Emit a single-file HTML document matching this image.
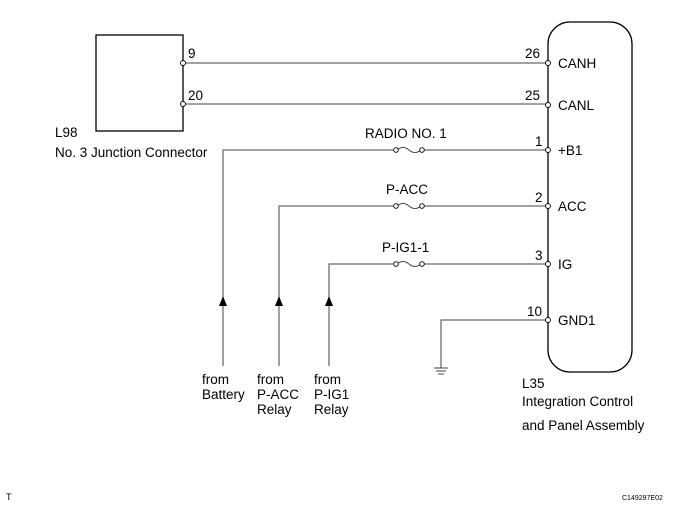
<!DOCTYPE html>
<html><head><meta charset="utf-8"><style>body{margin:0;background:#fff}svg{display:block}text{font-family:"Liberation Sans",sans-serif;font-size:13.5px;fill:#000}</style></head>
<body><svg width="690" height="520" viewBox="0 0 690 520">
<rect x="96" y="35" width="87" height="96" fill="none" stroke="#000" stroke-width="1.3"/>
<rect x="548" y="22" width="84" height="350" rx="22" fill="none" stroke="#000" stroke-width="1.3"/>
<g stroke="#444" stroke-width="1" fill="none">
<line x1="183" y1="63" x2="548" y2="63"/>
<line x1="183" y1="104" x2="548" y2="104"/>
<polyline points="223,366 223,150 393,150"/><line x1="422" y1="150" x2="548" y2="150"/>
<polyline points="279,366 279,206 393,206"/><line x1="422" y1="206" x2="548" y2="206"/>
<polyline points="329,366 329,264 393,264"/><line x1="422" y1="264" x2="548" y2="264"/>
<polyline points="441,368 441,320 548,320"/>
<line x1="434" y1="368" x2="448" y2="368"/><line x1="436" y1="371" x2="446" y2="371"/><line x1="438" y1="374" x2="444" y2="374"/>
<path d="M397,150 q6,-5 12,0 t12,0"/><path d="M397,206 q6,-5 12,0 t12,0"/><path d="M397,264 q6,-5 12,0 t12,0"/>
</g>
<g fill="#fff" stroke="#000" stroke-width="0.9">
<circle cx="183" cy="63" r="2.5"/><circle cx="183" cy="104" r="2.5"/>
<circle cx="548" cy="63" r="2.5"/><circle cx="548" cy="105" r="2.5"/><circle cx="548" cy="150" r="2.5"/><circle cx="548" cy="206" r="2.5"/><circle cx="548" cy="264" r="2.5"/><circle cx="548" cy="320" r="2.5"/>
<circle cx="396" cy="150" r="2.3"/><circle cx="422" cy="150" r="2.3"/><circle cx="396" cy="206" r="2.3"/><circle cx="422" cy="206" r="2.3"/><circle cx="396" cy="264" r="2.3"/><circle cx="422" cy="264" r="2.3"/>
</g>
<g fill="#000"><polygon points="223,296 219,306 227,306"/><polygon points="279,296 275,306 283,306"/><polygon points="329,296 325,306 333,306"/></g>
<text x="188" y="58">9</text><text x="188" y="100">20</text>
<text x="55" y="137">L98</text><text x="55" y="157">No. 3 Junction Connector</text>
<text x="525" y="58">26</text><text x="525" y="100">25</text><text x="535" y="146">1</text><text x="535" y="202">2</text><text x="535" y="260">3</text><text x="527" y="316">10</text>
<text x="558" y="68">CANH</text><text x="558" y="110">CANL</text><text x="558" y="155">+B1</text><text x="558" y="211">ACC</text><text x="558" y="269">IG</text><text x="558" y="325">GND1</text>
<text x="365" y="138">RADIO NO. 1</text><text x="386" y="194">P-ACC</text><text x="382" y="252">P-IG1-1</text>
<text x="202" y="384">from</text><text x="202" y="399">Battery</text>
<text x="257" y="384">from</text><text x="257" y="399">P-ACC</text><text x="257" y="414">Relay</text>
<text x="314" y="384">from</text><text x="314" y="399">P-IG1</text><text x="314" y="414">Relay</text>
<text x="522" y="388">L35</text><text x="522" y="406">Integration Control</text><text x="522" y="430">and Panel Assembly</text>
<text x="6" y="500" style="font-size:9px">T</text><text x="622" y="500" style="font-size:7px">C149297E02</text>
</svg></body></html>
